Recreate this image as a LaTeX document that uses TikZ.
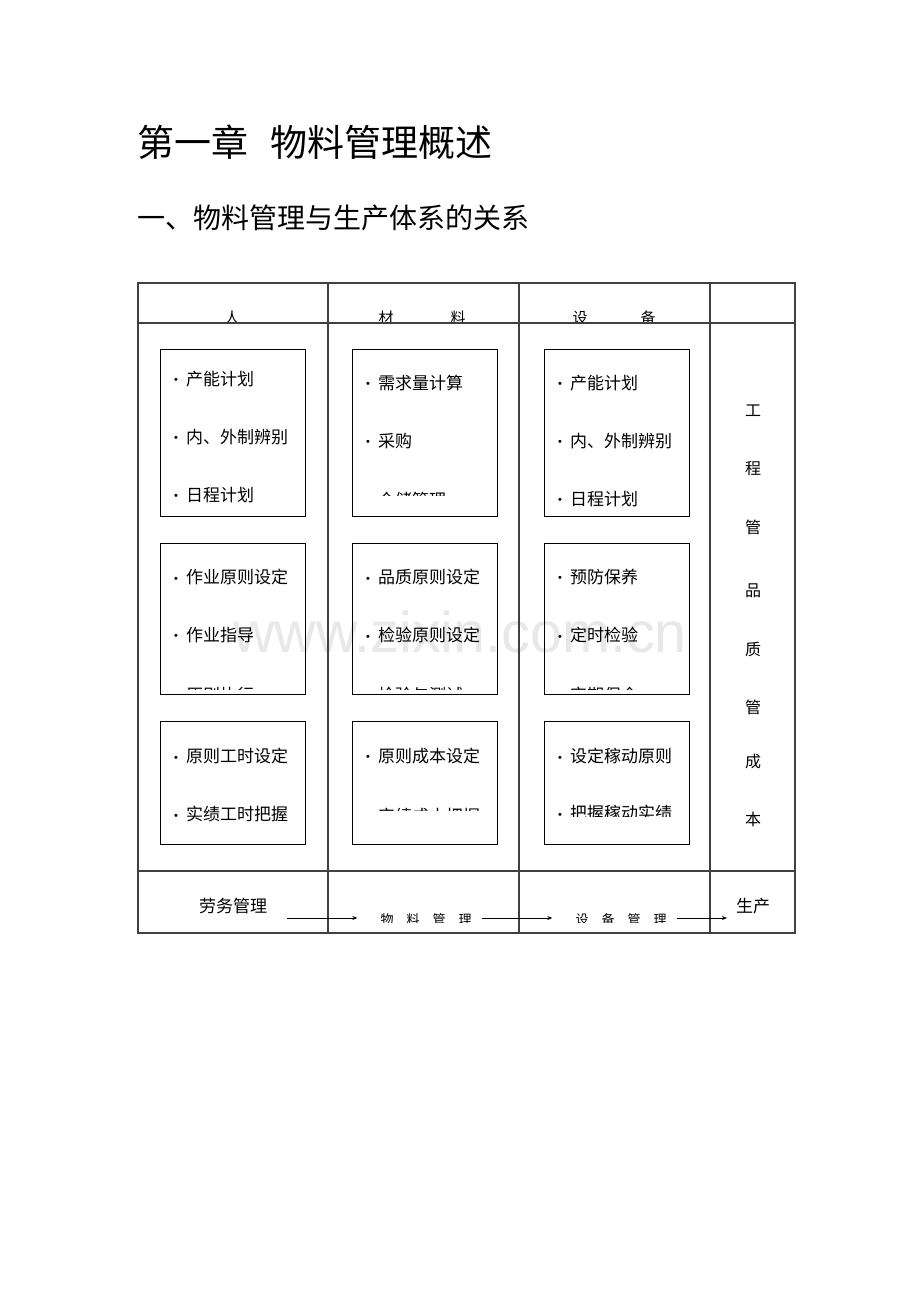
\documentclass[tikz,border=0pt]{standalone}
\usepackage{fontspec}
\usetikzlibrary{arrows.meta}
\newfontfamily\cjk{Noto Sans CJK SC}
\newfontfamily\latinsf{Liberation Sans}
\newcommand\blt{{\latinsf\fontsize{11}{11}\selectfont\raisebox{1.5pt}{\textbullet}}\hspace{8pt}}
\tikzset{
  grid/.style={draw=black!75,line width=1.2pt},
  listbox/.style={draw=black,line width=0.9pt},
  item/.style={anchor=west,inner sep=0pt,font=\cjk\fontsize{17}{17}\selectfont},
  vchar/.style={inner sep=0pt,font=\cjk\fontsize{16}{16}\selectfont},
  head/.style={inner sep=0pt,font=\cjk\fontsize{15}{15}\selectfont},
  small/.style={inner sep=0pt,font=\cjk\fontsize{13}{13}\selectfont},
  flow/.style={draw=black,line width=0.8pt,-{Stealth[length=5pt,width=4pt]}}
}
\begin{document}
\begin{tikzpicture}[x=1pt,y=-1pt]
  \useasboundingbox[fill=white] (0,0) rectangle (920,1302);
  % watermark
  \node[inner sep=0pt,text=black!9,font=\latinsf\fontsize{57.5}{57.5}\selectfont]
    (mark) at (460,632) {www.zixin.com.cn};
  % titles
  \node[anchor=west,inner sep=0pt,font=\cjk\fontsize{37}{37}\selectfont]
    (chapter) at (137,142) {第一章\hspace{0.6em}物料管理概述};
  \node[anchor=west,inner sep=0pt,font=\cjk\fontsize{28}{28}\selectfont]
    (section) at (137,218) {一、物料管理与生产体系的关系};
  % table
  \draw[grid] (138,283) rectangle (795,933);
  \draw[grid] (138,323) -- (795,323);
  \draw[grid] (138,871) -- (795,871);
  \foreach \x in {328,519,710}
    \draw[grid] (\x,283) -- (\x,933);
  % column heads, cut off by the rule below them
  \begin{scope}
    \clip (138,283) rectangle (795,321.5);
    \node[head] (hren) at (232,317.5) {人};
    \node[head] (hcai) at (386,317.5) {材};
    \node[head] (hliao) at (458,317.5) {料};
    \node[head] (hshe) at (580,317.5) {设};
    \node[head] (hbei) at (648,317.5) {备};
  \end{scope}
  % boxes
  \foreach \bx in {160,352,544} {
    \draw[listbox] (\bx,349) rectangle ++(145,167);
    \draw[listbox] (\bx,543) rectangle ++(145,151);
    \draw[listbox] (\bx,721) rectangle ++(145,123);
  }
  % column 1
  \node[item] (r1a) at (174,379) {\blt 产能计划};
  \node[item] (r1b) at (174,437) {\blt 内、外制辨别};
  \node[item] (r1c) at (174,495) {\blt 日程计划};
  \node[item] (r2a) at (174,577) {\blt 作业原则设定};
  \node[item] (r2b) at (174,635) {\blt 作业指导};
  \node[item] (r3a) at (174,756) {\blt 原则工时设定};
  \node[item] (r3b) at (174,814) {\blt 实绩工时把握};
  % column 2
  \node[item] (c1a) at (366,383) {\blt 需求量计算};
  \node[item] (c1b) at (366,441) {\blt 采购};
  \node[item] (c2a) at (366,577) {\blt 品质原则设定};
  \node[item] (c2b) at (366,635) {\blt 检验原则设定};
  \node[item] (c3a) at (366,756) {\blt 原则成本设定};
  % column 3
  \node[item] (s1a) at (558,383) {\blt 产能计划};
  \node[item] (s1b) at (558,441) {\blt 内、外制辨别};
  \node[item] (s1c) at (558,499) {\blt 日程计划};
  \node[item] (s2a) at (558,577) {\blt 预防保养};
  \node[item] (s2b) at (558,635) {\blt 定时检验};
  \node[item] (s3a) at (558,756) {\blt 设定稼动原则};
  % lines that the boxes cut off
  \begin{scope}
    \clip (352,480) rectangle (497,495);
    \node[item] (c1c) at (366,500) {\blt 仓储管理};
  \end{scope}
  \begin{scope}
    \clip (138,675) rectangle (700,689);
    \node[item] (r2c) at (174,695) {\blt 原则执行};
    \node[item] (c2c) at (366,695) {\blt 检验与测试};
    \node[item] (s2c) at (558,695) {\blt 定期保全};
  \end{scope}
  \begin{scope}
    \clip (352,795) rectangle (497,810);
    \node[item] (c3b) at (366,816) {\blt 实绩成本把握};
  \end{scope}
  \begin{scope}
    \clip (544,795) rectangle (689,816);
    \node[item] (s3b) at (558,813) {\blt 把握稼动实绩};
  \end{scope}
  % right column
  \foreach \ch/\y [count=\i] in {工/411,程/469,管/527,品/591,质/649,管/707,成/761,本/819}
    \node[vchar] (v\i) at (753,\y) {\ch};
  % bottom row
  \node[item,anchor=center] (labour) at (233,906) {劳务管理};
  \node[item,anchor=center] (output) at (753,906) {生产};
  \begin{scope}
    \clip (330,900) rectangle (708,922.5);
    \node[small] (material) at (426,920) {物\hspace{1em}料\hspace{1em}管\hspace{1em}理};
    \node[small] (equip) at (621,920) {设\hspace{1em}备\hspace{1em}管\hspace{1em}理};
  \end{scope}
  \coordinate (start) at (287,918);
  \coordinate (finish) at (727,918);
  \draw[flow,shorten >=23pt] (start) -- (material.west |- start);
  \draw[flow,shorten <=10pt,shorten >=23pt] (material.east |- start) -- (equip.west |- start);
  \draw[flow,shorten <=10pt] (equip.east |- start) -- (finish);
\end{tikzpicture}
\end{document}
